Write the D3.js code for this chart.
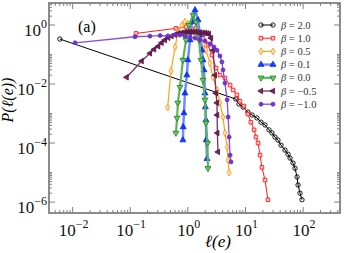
<!DOCTYPE html>
<html>
<head>
<meta charset="utf-8">
<script src="https://cdn.jsdelivr.net/npm/d3@7"></script>
<style>
body{margin:0;background:#fff;}
svg{display:block;}
</style>
</head>
<body>
<svg id="plot"></svg>
<script>
// values, one pair of arrays per beta
var b20x = [0.006,6.8,7.7,9.1,11.0,13.0,15.8,18.6,21.8,25.6,28.8,32.5,36.6,41.3,48.5,54.7,59.3,66.8,72.4,78.4,81.6,88.3,95.5];
var b20y = [0.335,0.0031,0.0021,0.00166,0.00112,0.00089,0.00071,0.00051,0.00041,0.00028,0.00022,0.00016,0.000126,8.5e-5,5.8e-5,4.2e-5,3.1e-5,2.1e-5,1.4e-5,7.1e-6,3.8e-6,2.0e-6,1.2e-6];

var b10x = [0.126,0.62,0.93,1.38,1.83,2.23,2.62,3.08,3.61,4.4,5.4,6.1,7.1,8.0,9.4,11.0,12.4,14.1,15.2,16.5,17.9,19.3,21.8,24.5];
var b10y = [0.52,0.77,0.86,0.79,0.46,0.21,0.096,0.035,0.020,0.016,0.0092,0.0063,0.0043,0.0026,0.0018,0.00096,0.00051,0.00028,0.00016,0.0001,3.9e-5,1.5e-5,5.6e-6,1.2e-6];

var b05x = [0.445,0.51,0.60,0.67,0.79,0.89,1.0,1.13,1.33,1.56,1.83,2.06,2.42,2.73,3.2,3.6,4.07,4.4,4.8,5.0,5.2];
var b05y = [0.0016,0.028,0.18,0.54,1.0,1.29,1.08,0.79,0.54,0.36,0.23,0.14,0.051,0.017,0.0063,0.0023,0.00076,0.00022,7.3e-5,2.6e-5,1.0e-5];

var b01x = [0.82,0.83,0.855,0.89,0.96,1.0,1.09,1.18,1.33,1.50,1.62,1.76,1.83,1.90,1.98,2.01,2.06,2.08,2.15];
var b01y = [0.000126,0.00035,0.00104,0.0049,0.020,0.065,0.31,1.26,3.2,1.48,0.46,0.14,0.065,0.030,0.0049,0.00166,0.0006,0.000126,2.9e-5];

var b00x = [0.62,0.65,0.67,0.73,0.82,0.93,1.04,1.23,1.38,1.56,1.69,1.83,1.98,2.06,2.19,2.23];
var b00y = [0.00022,0.00071,0.0023,0.0079,0.065,0.31,1.0,2.2,1.26,0.31,0.065,0.0137,0.0029,0.00048,0.0001,1.4e-5];

var bm05x = [0.0866,0.158,0.22,0.26,0.306,0.35,0.40,0.457,0.52,0.60,0.68,0.78,0.89,1.0,1.09,1.2,1.33,1.47,1.62,1.8,1.98,2.15,2.32,2.52,2.73,2.95,3.07,3.2,3.22,3.25,3.33];
var bm05y = [0.0169,0.060,0.11,0.15,0.19,0.25,0.31,0.37,0.42,0.47,0.52,0.55,0.58,0.58,0.58,0.58,0.58,0.57,0.56,0.55,0.54,0.52,0.50,0.36,0.14,0.020,0.0049,0.0023,0.00089,0.00022,5.0e-5];

var bm10x = [0.011,0.121,0.22,0.33,0.45,0.60,0.73,0.89,1.09,1.33,1.62,1.98,2.42,2.84,3.2,3.6,3.9,4.07,4.4,4.8,5.0,5.2,5.4,5.6];
var bm10y = [0.25,0.40,0.42,0.44,0.43,0.46,0.46,0.42,0.39,0.36,0.32,0.29,0.23,0.18,0.14,0.089,0.056,0.030,0.0108,0.0029,0.00076,0.00016,3.9e-5,2.3e-5];

var legendValues = ["2.0","1.0","0.5","0.1","0.0","\u22120.5","\u22121.0"];
var xTickValues = [0.01,0.1,1,10,100];
var xTickExps = ["\u22122","\u22121","0","1","2"];
var yTickValues = [1,1e-2,1e-4,1e-6];
var yTickExps = ["0","\u22122","\u22124","\u22126"];

var seriesList = [
    {x:b20x, y:b20y, line:"#000000", lw:1,   mark:"#000000", fill:"none",    shape:"circle",  size:15, rot:0},
    {x:b10x, y:b10y, line:"#ff1a1a", lw:1,   mark:"#ff1a1a", fill:"#ffd0d0", shape:"square",  size:13, rot:0},
    {x:b05x, y:b05y, line:"#ffa31a", lw:1.2, mark:"#ff9c1a", fill:"#ffe0b0", shape:"diamond", size:14, rot:0},
    {x:b01x, y:b01y, line:"#6f8cff", lw:2.5, mark:"#0a2cff", fill:"#0a2cff", shape:"tri",     size:15, rot:0},
    {x:b00x, y:b00y, line:"#5fb35f", lw:2.2, mark:"#1f8a1f", fill:"#6fc06f", shape:"tri",     size:15, rot:180},
    {x:bm05x,y:bm05y,line:"#7a3266", lw:1.3, mark:"#5e1a4a", fill:"#5e1a4a", shape:"tri",     size:13, rot:-90},
    {x:bm10x,y:bm10y,line:"#8a4fd6", lw:1.3, mark:"#6a2cc4", fill:"#6a2cc4", shape:"circle",  size:12, rot:0}
];

var screen = {width:346, height:253};
var box = {left:49, right:340, top:3, bottom:213};

var xScale = d3.scaleLog()
    .domain([Math.pow(10,-2.41), Math.pow(10,2.64)])
    .range([box.left, box.right]);
var yScale = d3.scaleLog()
    .domain([Math.pow(10,-6.37), Math.pow(10,0.746)])
    .range([box.bottom, box.top]);

var symbolFor = function(shape)
{
    if(shape=="square") return d3.symbolSquare;
    if(shape=="diamond") return d3.symbolDiamond;
    if(shape=="tri") return d3.symbolTriangle;
    return d3.symbolCircle;
}

var drawMarks = function(g, pts, s)
{
    g.selectAll("path.mk")
        .data(pts)
        .enter()
        .append("path")
        .classed("mk",true)
        .attr("d", d3.symbol().type(symbolFor(s.shape)).size(s.size))
        .attr("transform", function(p){
            return "translate("+p[0]+","+p[1]+") rotate("+s.rot+")";
        })
        .attr("fill", s.fill=="none" ? "#fff" : s.fill)
        .attr("fill-opacity", s.fill=="none" ? 0 : 0.9)
        .attr("stroke", s.mark)
        .attr("stroke-width", 0.9);
}

var drawAxes = function(svg)
{
    var axisColor = "#808080";
    var ax = svg.append("g").classed("axis",true);

    // minor ticks: every decade on x, even decades on y
    var xMinor = [];
    for(var k=-3;k<=2;k++)
        for(var m=2;m<=9;m++)
        {
            var v = m*Math.pow(10,k);
            var px = xScale(v);
            if(px>box.left+1 && px<box.right-1) xMinor.push(px);
        }
    var yMinor = [];
    for(var k=-7;k<=0;k++)
    {
        if(k%2!=0)
        {
            var py = yScale(Math.pow(10,k));
            if(py>box.top+1 && py<box.bottom-1) yMinor.push(py);
            continue;
        }
        for(var m=2;m<=9;m++)
        {
            var py = yScale(m*Math.pow(10,k));
            if(py>box.top+1 && py<box.bottom-1) yMinor.push(py);
        }
    }

    var xMajor = xTickValues.map(function(v){return xScale(v);});
    var yMajor = yTickValues.map(function(v){return yScale(v);});

    var tick = function(x1,y1,x2,y2)
    {
        ax.append("line")
            .attr("x1",x1).attr("y1",y1).attr("x2",x2).attr("y2",y2)
            .attr("stroke",axisColor).attr("stroke-width",1);
    }
    xMinor.forEach(function(px){
        tick(px,box.bottom,px,box.bottom-3);
        tick(px,box.top,px,box.top+3);
    });
    xMajor.forEach(function(px){
        tick(px,box.bottom,px,box.bottom-6);
        tick(px,box.top,px,box.top+6);
    });
    yMinor.forEach(function(py){
        tick(box.left,py,box.left+3,py);
        tick(box.right,py,box.right-3,py);
    });
    yMajor.forEach(function(py){
        tick(box.left,py,box.left+6,py);
        tick(box.right,py,box.right-6,py);
    });

    ax.append("rect")
        .attr("x",box.left).attr("y",box.top)
        .attr("width",box.right-box.left)
        .attr("height",box.bottom-box.top)
        .attr("fill","none")
        .attr("stroke",axisColor)
        .attr("stroke-width",1.8);

    var font = "'Liberation Serif','DejaVu Serif',serif";

    xTickValues.forEach(function(v,i){
        var t = svg.append("text")
            .attr("x",xScale(v)+1)
            .attr("y",236)
            .attr("text-anchor","middle")
            .attr("font-family",font)
            .attr("font-size",17)
            .attr("fill","#111");
        t.append("tspan").text("10");
        t.append("tspan").attr("dy",-8).attr("font-size",12).text(xTickExps[i]);
    });
    yTickValues.forEach(function(v,i){
        var t = svg.append("text")
            .attr("x",47)
            .attr("y",yScale(v)+11)
            .attr("text-anchor","end")
            .attr("font-family",font)
            .attr("font-size",17)
            .attr("fill","#111");
        t.append("tspan").text("10");
        t.append("tspan").attr("dy",-8).attr("font-size",12).text(yTickExps[i]);
    });

    svg.append("text")
        .attr("x",218).attr("y",247)
        .attr("text-anchor","middle")
        .attr("font-family",font)
        .attr("font-style","italic")
        .attr("font-size",17)
        .text("\u2113(e)");
    svg.append("text")
        .attr("transform","translate(13,100) rotate(-90)")
        .attr("text-anchor","middle")
        .attr("font-family",font)
        .attr("font-style","italic")
        .attr("font-size",16)
        .text("P(\u2113(e))");
    svg.append("text")
        .attr("x",78).attr("y",32)
        .attr("font-family",font)
        .attr("font-size",16)
        .text("(a)");
}

var drawSeries = function(svg)
{
    var clip = svg.append("clipPath").attr("id","clip");
    clip.append("rect")
        .attr("x",box.left).attr("y",box.top)
        .attr("width",box.right-box.left)
        .attr("height",box.bottom-box.top);

    var g = svg.append("g").attr("clip-path","url(#clip)");
    var line = d3.line();

    seriesList.forEach(function(s){
        var pts = s.x.map(function(v,i){ return [xScale(v), yScale(s.y[i])]; });
        var sg = g.append("g");
        sg.append("path")
            .attr("d", line(pts))
            .attr("fill","none")
            .attr("stroke",s.line)
            .attr("stroke-width",s.lw);
        drawMarks(sg, pts, s);
    });
}

var drawLegend = function(svg)
{
    var lg = svg.append("g").classed("legend",true);
    seriesList.forEach(function(s,i){
        var y = 25 + i*13.2;
        var row = lg.append("g");
        row.append("line")
            .attr("x1",261).attr("x2",273)
            .attr("y1",y).attr("y2",y)
            .attr("stroke",s.line)
            .attr("stroke-width",s.lw);
        drawMarks(row, [[261,y],[273,y]], s);
        var t = row.append("text")
            .attr("x",281).attr("y",y+3.5)
            .attr("font-family","'Liberation Serif','DejaVu Serif',serif")
            .attr("font-size",10.5)
            .attr("fill","#333");
        t.append("tspan").attr("font-style","italic").text("\u03b2");
        t.append("tspan").text(" = "+legendValues[i]);
    });
}

var initGraph = function(target)
{
    var svg = d3.select(target)
        .attr("width",screen.width)
        .attr("height",screen.height);
    drawSeries(svg);
    drawAxes(svg);
    drawLegend(svg);
}

initGraph("#plot");
</script>
</body>
</html>
